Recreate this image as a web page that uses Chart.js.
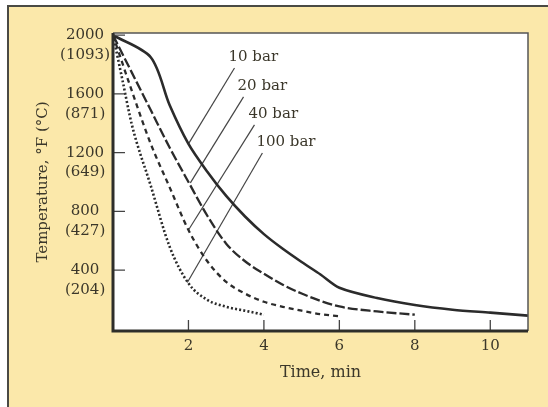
<!DOCTYPE html>
<html>
<head>
<meta charset="utf-8">
<script src="https://cdn.jsdelivr.net/npm/chart.js@4"></script>
<style>
  html, body { margin: 0; padding: 0; background: #fff; }
  #wrap { width: 548px; height: 407px; }
</style>
</head>
<body>
<div id="wrap"><canvas id="chart" width="548" height="407"></canvas></div>
<script>
/************ DATA ************/
// time in min, temperature in °F
const time10 = [0, 1, 1.5, 2, 2.5, 3, 3.5, 4, 4.5, 5, 5.5, 6, 7, 8, 9, 10, 11];
const temp10 = [2000, 1850, 1525, 1260, 1070, 905, 765, 645, 545, 455, 370, 280, 210, 162, 130, 110, 90];

const time20 = [0, 0.5, 1, 1.5, 2, 2.5, 3, 3.5, 4, 4.5, 5, 5.5, 6, 7, 8];
const temp20 = [2000, 1745, 1490, 1235, 1000, 770, 580, 460, 375, 300, 240, 190, 152, 118, 96];

const time40 = [0, 0.5, 1, 1.5, 2, 2.5, 3, 3.5, 4, 4.5, 5, 5.5, 6];
const temp40 = [2000, 1620, 1260, 965, 673, 460, 320, 240, 184, 150, 123, 100, 85];

const time100 = [0, 0.25, 0.5, 1, 1.5, 2, 2.5, 3, 3.5, 4];
const temp100 = [2000, 1695, 1390, 975, 560, 310, 197, 150, 123, 96];

// label leader lines: start (near text) -> end (on curve)
const barLabels = ["10 bar", "20 bar", "40 bar", "100 bar"];
const leaderStartT = [3.22, 3.46, 3.75, 3.96];
const leaderStartF = [1777, 1580, 1389, 1198];
const leaderEndT = [2.0, 2.05, 2.0, 1.97];
const leaderEndF = [1260, 994, 673, 315];

// axis ticks
const xTickValues = [2, 4, 6, 8, 10];
const yTickValues = [400, 800, 1200, 1600, 2000];
const yTickCelsius = ["(204)", "(427)", "(649)", "(871)", "(1093)"];

/************ STYLE ************/
const INK = "#2b2b2b";
const TEXT = "#3b372a";
const CREAM = "#fbe8aa";
const SERIF = "'DejaVu Serif', serif";

function pts(xs, ys) {
  return xs.map((x, i) => ({ x: x, y: ys[i] }));
}

function curve(xs, ys, dash, width) {
  return {
    data: pts(xs, ys),
    borderColor: INK,
    borderWidth: width,
    borderDash: dash,
    pointRadius: 0,
    cubicInterpolationMode: "monotone",
    fill: false
  };
}

const solid = curve(time10, temp10, [], 2.6);
solid.cubicInterpolationMode = "default";
solid.tension = 0.3;

const datasets = [
  solid,
  curve(time20, temp20, [10, 3], 2.3),
  curve(time40, temp40, [5, 4], 2.3),
  curve(time100, temp100, [2, 2.2], 2.6)
];

barLabels.forEach((lbl, i) => {
  datasets.push({
    data: [
      { x: leaderStartT[i], y: leaderStartF[i] },
      { x: leaderEndT[i], y: leaderEndF[i] }
    ],
    borderColor: "#454545",
    borderWidth: 1.2,
    pointRadius: 0,
    tension: 0,
    fill: false
  });
});

/************ PLUGINS ************/
const framePlugin = {
  id: "frame",
  beforeDraw(chart) {
    const c = chart.ctx;
    const a = chart.chartArea;
    c.save();
    c.fillStyle = "#fff";
    c.fillRect(0, 0, chart.width, chart.height);
    c.fillStyle = CREAM;
    c.fillRect(9, 7, chart.width - 9, chart.height - 7);
    c.strokeStyle = "#4a4a44";
    c.lineWidth = 2;
    c.beginPath();
    c.moveTo(8, chart.height);
    c.lineTo(8, 6);
    c.lineTo(chart.width, 6);
    c.stroke();
    c.fillStyle = "#fff";
    c.fillRect(a.left, a.top, a.right - a.left, a.bottom - a.top);
    c.restore();
  },
  afterDatasetsDraw(chart) {
    const c = chart.ctx;
    const a = chart.chartArea;
    const xs = chart.scales.x;
    const ys = chart.scales.y;
    c.save();
    // thin top / right
    c.strokeStyle = "#555";
    c.lineWidth = 1.5;
    c.beginPath();
    c.moveTo(a.left, a.top);
    c.lineTo(a.right, a.top);
    c.lineTo(a.right, a.bottom);
    c.stroke();
    // inward ticks
    c.strokeStyle = "#444";
    c.lineWidth = 1.3;
    c.beginPath();
    yTickValues.forEach(v => {
      const py = ys.getPixelForValue(v);
      c.moveTo(a.left, py);
      c.lineTo(a.left + 12, py);
    });
    xTickValues.forEach(v => {
      const px = xs.getPixelForValue(v);
      c.moveTo(px, a.bottom);
      c.lineTo(px, a.bottom - 11);
    });
    c.stroke();
    // thick left / bottom
    c.strokeStyle = "#2e2e2a";
    c.lineWidth = 3;
    c.beginPath();
    c.moveTo(a.left, a.top);
    c.lineTo(a.left, a.bottom);
    c.lineTo(a.right, a.bottom);
    c.stroke();
    // curve labels
    c.fillStyle = TEXT;
    c.font = "15px " + SERIF;
    c.textAlign = "left";
    c.textBaseline = "middle";
    barLabels.forEach((lbl, i) => {
      const px = xs.getPixelForValue(leaderStartT[i]);
      const py = ys.getPixelForValue(leaderStartF[i]);
      c.fillText(lbl, px - 6, py - 11);
    });
    c.restore();
  }
};

/************ CHART ************/
new Chart(document.getElementById("chart"), {
  type: "line",
  data: { datasets: datasets },
  options: {
    responsive: false,
    animation: false,
    layout: { padding: { left: 0, top: 33, right: 20, bottom: 16 } },
    plugins: { legend: { display: false }, tooltip: { enabled: false } },
    scales: {
      x: {
        type: "linear",
        min: 0,
        max: 11,
        grid: { display: false, drawTicks: false },
        border: { display: false },
        afterBuildTicks: s => { s.ticks = xTickValues.map(v => ({ value: v })); },
        afterFit: s => { s.height = 60; },
        ticks: {
          autoSkip: false,
          maxRotation: 0,
          padding: 6,
          color: TEXT,
          font: { family: SERIF, size: 15, lineHeight: 1.2 }
        },
        title: {
          display: true,
          text: "Time, min",
          color: TEXT,
          padding: { top: 0, bottom: 9 },
          font: { family: SERIF, size: 16, lineHeight: 1.2 }
        }
      },
      y: {
        type: "linear",
        min: -15,
        max: 2015,
        grid: { display: false, drawTicks: false },
        border: { display: false },
        afterBuildTicks: s => { s.ticks = yTickValues.map(v => ({ value: v })); },
        afterFit: s => { s.width = 113; },
        ticks: {
          autoSkip: false,
          crossAlign: "center",
          padding: 3,
          color: TEXT,
          font: { family: SERIF, size: 15, lineHeight: 1.33 },
          callback: v => ["", String(v), yTickCelsius[yTickValues.indexOf(v)]]
        },
        title: {
          display: true,
          text: "Temperature, °F (°C)",
          color: TEXT,
          padding: { top: 34, bottom: 0 },
          font: { family: SERIF, size: 15, lineHeight: 1.2 }
        }
      }
    }
  },
  plugins: [framePlugin]
});
</script>
</body>
</html>
